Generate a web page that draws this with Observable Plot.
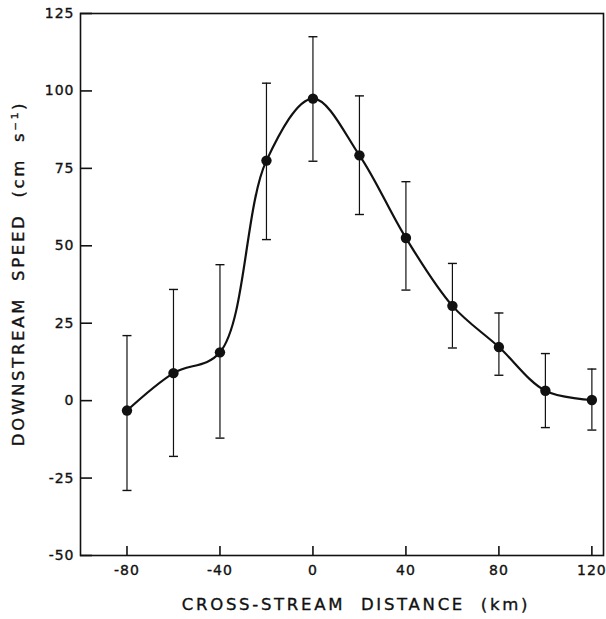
<!DOCTYPE html>
<html>
<head>
<meta charset="utf-8">
<script src="https://cdn.jsdelivr.net/npm/d3@7"></script>
<script src="https://cdn.jsdelivr.net/npm/@observablehq/plot@0.6"></script>
<style>
  html, body { margin: 0; padding: 0; background: #fff; }
  svg { display: block; }
</style>
</head>
<body>
<div id="chart"></div>
<script>
// Cross-stream distance (km)
const distance = [-80, -60, -40, -20, 0, 20, 40, 60, 80, 100, 120];
// Downstream speed (cm s^-1)
const speed = [-3.2, 8.9, 15.6, 77.5, 97.5, 79.2, 52.5, 30.6, 17.3, 3.2, 0.2];
const upper = [21, 35.9, 43.9, 102.5, 117.5, 98.4, 70.7, 44.3, 28.3, 15.2, 10.2];
const lower = [-29, -18, -12.1, 52, 77.3, 60.1, 35.7, 17, 8.2, -8.7, -9.5];

const xTicks = [-80, -40, 0, 40, 80, 120];
const yTicks = [-50, -25, 0, 25, 50, 75, 100, 125];
const xTitle = "CROSS-STREAM  DISTANCE  (km)";
const yTitle = "DOWNSTREAM  SPEED  (cm  s\u207B\u00B9)";

const data = distance.map((x, i) => ({x, y: speed[i], lo: lower[i], hi: upper[i]}));

const fmt = d => (d < 0 ? "-" + Math.abs(d) : String(d));
const capSymbol = {
  draw(context) {
    context.moveTo(-4.5, 0);
    context.lineTo(4.5, 0);
  }
};

const font = "DejaVu Sans, sans-serif";
const W = 606, H = 619, ML = 80, MR = 3, MT = 13, MB = 64;
const frameW = W - ML - MR, frameH = H - MT - MB;

const chart = Plot.plot({
  width: W,
  height: H,
  marginLeft: ML,
  marginRight: MR,
  marginTop: MT,
  marginBottom: MB,
  style: {fontFamily: font, fontSize: "14px", color: "#111", background: "#fff"},
  x: {domain: [-100, 125]},
  y: {domain: [-50, 125]},
  marks: [
    Plot.frame({stroke: "#111", strokeWidth: 1.6}),
    Plot.axisX({ticks: xTicks, tickFormat: fmt, tickSize: 0, tickPadding: 10, label: null, fontSize: 14}),
    Plot.axisY({ticks: yTicks, tickFormat: fmt, tickSize: 0, tickPadding: 6, label: null, fontSize: 14}),
    Plot.ruleX(xTicks, {x: d => d, insetTop: frameH - 9, stroke: "#111", strokeWidth: 1.6}),
    Plot.ruleY(yTicks, {y: d => d, insetRight: frameW - 12, stroke: "#111", strokeWidth: 1.6}),
    Plot.ruleX(data, {x: "x", y1: "lo", y2: "hi", stroke: "#111", strokeWidth: 1.2}),
    Plot.dot(data, {x: "x", y: "lo", symbol: capSymbol, r: 4, stroke: "#111", strokeWidth: 1.4, fill: "none"}),
    Plot.dot(data, {x: "x", y: "hi", symbol: capSymbol, r: 4, stroke: "#111", strokeWidth: 1.4, fill: "none"}),
    Plot.line(data, {x: "x", y: "y", curve: "catmull-rom", stroke: "#111", strokeWidth: 2.2}),
    Plot.dot(data, {x: "x", y: "y", r: 5.2, fill: "#111", stroke: "none"}),
    Plot.text([xTitle], {text: d => d, frameAnchor: "bottom", textAnchor: "middle", dx: 14, dy: 54, fontSize: 16.5, fill: "#111"}),
    Plot.text([yTitle], {text: d => d, frameAnchor: "left", textAnchor: "middle", rotate: -90, dx: -62, dy: -11, fontSize: 16.5, fill: "#111"})
  ]
});

d3.select(chart).selectAll("text").style("letter-spacing", "1px")
  .attr("stroke", "#111").attr("stroke-width", 0.35);
d3.select(chart).selectAll("g[aria-label='text'] text").style("letter-spacing", "2.7px");
document.getElementById("chart").appendChild(chart);
</script>
</body>
</html>
